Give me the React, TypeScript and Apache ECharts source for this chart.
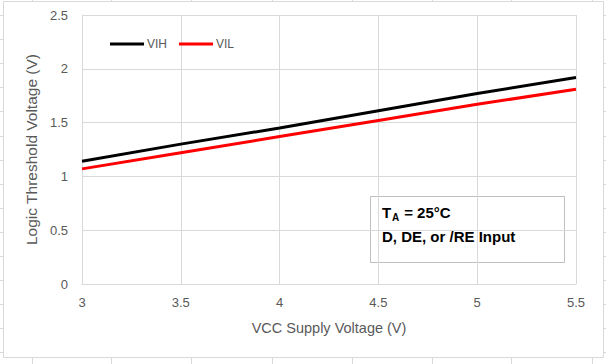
import React, { useEffect, useRef } from "react";
import * as echarts from "echarts";

const vccValues = [3, 3.5, 4, 4.5, 5, 5.5];
const vihValues = [1.14, 1.3, 1.45, 1.61, 1.77, 1.92];
const vilValues = [1.07, 1.22, 1.37, 1.52, 1.67, 1.81];
const seriesNames = ["VIH", "VIL"];

const TEXT = "#595959";
const GRID = "#d9d9d9";
const FONT = "Liberation Sans, Arial, sans-serif";

export default function App() {
  const ref = useRef<HTMLDivElement>(null);
  useEffect(() => {
    document.body.style.margin = "0";
    if (!ref.current) return;
    const chart = echarts.init(ref.current, undefined, { renderer: "svg" });

    const stubs: any[] = [];
    const colX = [32, 111, 191, 272, 352, 432, 511, 592];
    colX.forEach((x) => {
      stubs.push({ type: "line", shape: { x1: x + 0.5, y1: 0, x2: x + 0.5, y2: 1 }, style: { stroke: GRID, lineWidth: 1 }, silent: true });
      stubs.push({ type: "line", shape: { x1: x + 0.5, y1: 358, x2: x + 0.5, y2: 364 }, style: { stroke: GRID, lineWidth: 1 }, silent: true });
    });
    for (let i = 0; i < 15; i++) {
      const y = Math.round(15 + i * 24.1) + 0.5;
      stubs.push({ type: "line", shape: { x1: 0, y1: y, x2: 3, y2: y }, style: { stroke: GRID, lineWidth: 1 }, silent: true });
      stubs.push({ type: "line", shape: { x1: 604, y1: y, x2: 606, y2: y }, style: { stroke: GRID, lineWidth: 1 }, silent: true });
    }

    chart.setOption({
      animation: false,
      backgroundColor: "#ffffff",
      textStyle: { fontFamily: FONT },
      grid: { left: 82, top: 15, right: 30, bottom: 80, containLabel: false },
      legend: {
        left: 105,
        top: 33,
        icon: "rect",
        itemWidth: 34,
        itemHeight: 3,
        itemGap: 12,
        textStyle: { color: TEXT, fontSize: 12, fontFamily: FONT, padding: [0, 0, 0, -2] },
        data: seriesNames,
      },
      xAxis: {
        type: "value",
        min: 3,
        max: 5.5,
        interval: 0.5,
        name: "VCC Supply Voltage (V)",
        nameLocation: "middle",
        nameGap: 36,
        nameTextStyle: { color: TEXT, fontSize: 14.5, fontFamily: FONT },
        axisLine: { show: true, lineStyle: { color: GRID, width: 1 } },
        axisTick: { show: false },
        axisLabel: { color: TEXT, fontSize: 13, margin: 12, fontFamily: FONT },
        splitLine: { show: true, lineStyle: { color: GRID, width: 1 } },
      },
      yAxis: {
        type: "value",
        min: 0,
        max: 2.5,
        interval: 0.5,
        name: "Logic Threshold Voltage (V)",
        nameLocation: "middle",
        nameGap: 39,
        nameTextStyle: { color: TEXT, fontSize: 15.5, fontFamily: FONT },
        axisLine: { show: true, lineStyle: { color: GRID, width: 1 } },
        axisTick: { show: false },
        axisLabel: { color: TEXT, fontSize: 13, margin: 14, fontFamily: FONT },
        splitLine: { show: true, lineStyle: { color: GRID, width: 1 } },
      },
      series: [
        {
          name: seriesNames[0],
          type: "line",
          data: vccValues.map((v, i) => [v, vihValues[i]]),
          symbol: "none",
          lineStyle: { color: "#000000", width: 3 },
          itemStyle: { color: "#000000" },
        },
        {
          name: seriesNames[1],
          type: "line",
          data: vccValues.map((v, i) => [v, vilValues[i]]),
          symbol: "none",
          lineStyle: { color: "#ff0000", width: 3 },
          itemStyle: { color: "#ff0000" },
        },
      ],
      graphic: [
        {
          type: "rect",
          shape: { x: 3.5, y: 1.5, width: 600, height: 356 },
          style: { fill: "none", stroke: GRID, lineWidth: 1 },
          silent: true,
        },
        ...stubs,
        {
          type: "group",
          left: 370,
          top: 196,
          children: [
            {
              type: "rect",
              shape: { x: 0.5, y: 0.5, width: 194, height: 66 },
              style: { fill: "#ffffff", stroke: "#bfbfbf", lineWidth: 1 },
            },
            {
              type: "text",
              x: 12,
              y: 9,
              style: { text: "T", fill: "#000", font: "bold 15px " + FONT },
            },
            {
              type: "text",
              x: 22,
              y: 16,
              style: { text: "A", fill: "#000", font: "bold 10px " + FONT },
            },
            {
              type: "text",
              x: 30,
              y: 9,
              style: { text: " = 25°C", fill: "#000", font: "bold 15px " + FONT },
            },
            {
              type: "text",
              x: 12,
              y: 33,
              style: { text: "D, DE, or /RE Input", fill: "#000", font: "bold 15px " + FONT },
            },
          ],
        },
      ],
    });
    return () => chart.dispose();
  }, []);
  return <div ref={ref} style={{ width: 606, height: 364 }} />;
}
